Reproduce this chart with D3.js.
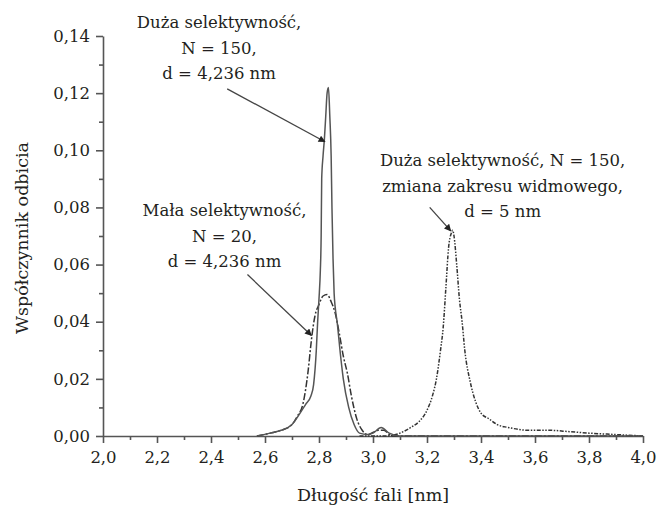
<!DOCTYPE html>
<html><head><meta charset="utf-8">
<script src="https://cdn.jsdelivr.net/npm/d3@7"></script>
<style>
html,body{margin:0;padding:0;background:#fff;}
svg text{font-family:"DejaVu Serif",serif;fill:#231f20;}
</style></head>
<body><svg id="c" width="658" height="508"></svg>
<script>
// ---- data ----
const xTicks = [2.0,2.2,2.4,2.6,2.8,3.0,3.2,3.4,3.6,3.8,4.0];
const yTicks = [0,0.02,0.04,0.06,0.08,0.10,0.12,0.14];
const xTitle = "Długość fali [nm]";
const yTitle = "Współczynnik odbicia";

// N = 150, d = 4,236 nm (solid)
const waveA = [2.57,2.62,2.66,2.70,2.73,2.75,2.77,2.78,2.79,2.795,2.80,2.805,2.808,2.81,2.815,2.82,2.825,2.83,2.835,2.84,2.845,2.848,2.852,2.856,2.86,2.867,2.88,2.89,2.91,2.93,2.95,2.98,3.00,3.03,3.06,3.10,3.40,3.70,4.00];
const reflA = [0.000,0.001,0.002,0.004,0.008,0.011,0.014,0.018,0.030,0.040,0.048,0.058,0.070,0.090,0.098,0.104,0.112,0.120,0.122,0.112,0.098,0.080,0.062,0.050,0.045,0.040,0.028,0.020,0.010,0.004,0.001,0.0005,0.001,0.003,0.001,0.000,0.000,0.000,0.000];

// N = 20, d = 4,236 nm (dash-dot)
const waveB = [2.57,2.62,2.66,2.70,2.72,2.74,2.75,2.76,2.77,2.775,2.785,2.80,2.815,2.83,2.845,2.86,2.875,2.89,2.905,2.92,2.94,2.96,2.98,3.02,3.04,3.07,3.40,3.70,4.00];
const reflB = [0.000,0.001,0.002,0.004,0.007,0.011,0.016,0.023,0.032,0.036,0.042,0.046,0.049,0.0495,0.047,0.043,0.036,0.028,0.022,0.014,0.006,0.002,0.0005,0.002,0.002,0.000,0.000,0.000,0.000];

// N = 150, d = 5 nm (dotted)
const waveC = [2.95,3.05,3.10,3.14,3.17,3.20,3.22,3.235,3.25,3.26,3.27,3.28,3.29,3.295,3.30,3.31,3.32,3.33,3.34,3.36,3.38,3.40,3.43,3.46,3.50,3.58,3.65,3.73,3.80,3.90,4.00];
const reflC = [0.000,0.000,0.001,0.003,0.005,0.009,0.014,0.020,0.030,0.038,0.052,0.066,0.071,0.072,0.070,0.060,0.048,0.040,0.030,0.019,0.012,0.008,0.006,0.004,0.003,0.002,0.002,0.0015,0.001,0.0005,0.000];

const notes = [
  {lines:["Duża selektywność,","N = 150,","d = 4,236 nm"], cx:2.43, cy:0.1428, from:[2.46,0.1215], to:[2.822,0.103]},
  {lines:["Mała selektywność,","N = 20,","d = 4,236 nm"], cx:2.45, cy:0.0770, from:[2.535,0.0565], to:[2.772,0.0352]},
  {lines:["Duża selektywność, N = 150,","zmiana zakresu widmowego,","d = 5 nm"], cx:3.48, cy:0.0945, from:[3.21,0.0800], to:[3.288,0.0718]}
];

// ---- drawing ----
const svg = d3.select("#c");
const x = d3.scaleLinear().domain([2,4]).range([103,643]);
const y = d3.scaleLinear().domain([0,0.14]).range([436,36]);
const fs = 16.5;
const axisCol = "#555";

function fmt(dec){ return d => d3.format("."+dec+"f")(d).replace(".", ","); }

// minor ticks
const xMinor = xTicks.slice(0,-1).map(t => +(t+0.1).toFixed(2));
const yMinor = yTicks.slice(0,-1).map(t => +(t+0.01).toFixed(3));

svg.append("g").attr("transform","translate(0,436)")
  .call(d3.axisBottom(x).tickValues(xTicks).tickFormat(fmt(1)).tickSize(7).tickPadding(8).tickSizeOuter(0));
svg.append("g").attr("transform","translate(0,436)")
  .call(d3.axisBottom(x).tickValues(xMinor).tickFormat("").tickSize(4).tickSizeOuter(0))
  .call(g=>g.select(".domain").remove());
svg.append("g").attr("transform","translate(103,0)")
  .call(d3.axisLeft(y).tickValues(yTicks).tickFormat(fmt(2)).tickSize(7).tickPadding(6).tickSizeOuter(0));
svg.append("g").attr("transform","translate(103,0)")
  .call(d3.axisLeft(y).tickValues(yMinor).tickFormat("").tickSize(4).tickSizeOuter(0))
  .call(g=>g.select(".domain").remove());
svg.selectAll("g").attr("font-family",null).attr("font-size",null);
svg.selectAll(".domain, .tick line").attr("stroke",axisCol).attr("stroke-width",1.6);
svg.selectAll(".tick text").style("font-size",fs+"px").attr("fill","#231f20");

// titles
svg.append("text").attr("x",373).attr("y",501).attr("text-anchor","middle").style("font-size","17.5px").text(xTitle);
svg.append("text").attr("transform","translate(28,238) rotate(-90)").attr("text-anchor","middle").style("font-size","17.5px").text(yTitle);

// lines
const line = (xs,ys) => d3.line().x((d,i)=>x(xs[i])).y((d,i)=>y(ys[i])).curve(d3.curveMonotoneX)(xs);
svg.append("path").attr("d",line(waveC,reflC)).attr("fill","none").attr("stroke","#333").attr("stroke-width",1.5).attr("stroke-dasharray","4,1.5,1.5,1.5,1.5,1.5");
svg.append("path").attr("d",line(waveB,reflB)).attr("fill","none").attr("stroke","#333").attr("stroke-width",1.5).attr("stroke-dasharray","7,2,2,2");
svg.append("path").attr("d",line(waveA,reflA)).attr("fill","none").attr("stroke","#555").attr("stroke-width",1.5);

// arrow marker
svg.append("defs").append("marker").attr("id","ah").attr("viewBox","0 0 10 10").attr("refX",9).attr("refY",5)
  .attr("markerWidth",9).attr("markerHeight",7).attr("markerUnits","userSpaceOnUse").attr("orient","auto")
  .append("path").attr("d","M0,0 L10,5 L0,10 Z").attr("fill","#222");

notes.forEach(n => {
  const t = svg.append("text").attr("text-anchor","middle").style("font-size",fs+"px");
  n.lines.forEach((s,i) => t.append("tspan").attr("x",x(n.cx)).attr("y",y(n.cy)+i*25.5).text(s));
  svg.append("line").attr("x1",x(n.from[0])).attr("y1",y(n.from[1])).attr("x2",x(n.to[0])).attr("y2",y(n.to[1]))
    .attr("stroke","#444").attr("stroke-width",1.3).attr("marker-end","url(#ah)");
});
</script></body></html>
